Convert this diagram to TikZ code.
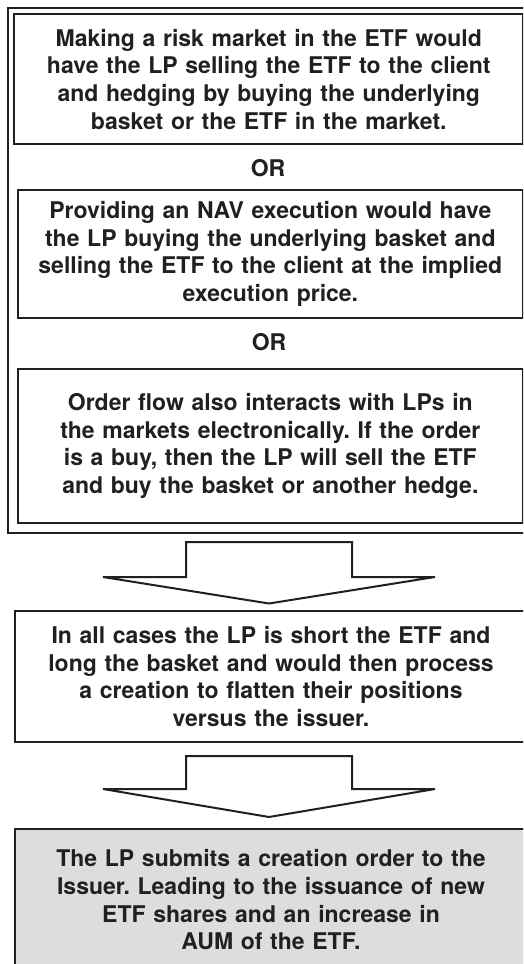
\documentclass[tikz,border=0pt]{standalone}
\usepackage{fontspec}
\setmainfont{TeX Gyre Heros}
\frenchspacing
\usetikzlibrary{positioning}
\definecolor{ink}{HTML}{231F20}
\definecolor{boxgray}{HTML}{DCDDDF}
\tikzset{
  textbox/.style={draw=ink, line width=2pt, align=center, text=ink,
    font=\fontsize{23}{27.7}\selectfont\bfseries, inner sep=0pt, anchor=north west},
  ortext/.style={text=ink, font=\fontsize{23}{27.7}\selectfont\bfseries, inner sep=0pt},
  blockarrow/.style={draw=ink, line width=2pt, fill=white, line join=miter},
  frame/.style={draw=ink, line width=2pt, inner sep=0pt, anchor=north west}
}
\begin{document}
\begin{tikzpicture}[x=1pt,y=-1pt]
\useasboundingbox (0,0) rectangle (523,964);
\clip (0,0) rectangle (523,964);
% outer frame
\node[frame, minimum width=530pt, minimum height=525pt] (outer) at (6.7,6.7) {};
% box 1
\node[textbox, minimum width=509pt, minimum height=130pt, text width=505pt] (b1) at (13.3,13.3)
  {Making a risk market in the ETF would\\have the LP selling the ETF to the client\\and hedging by buying the underlying\\basket or the ETF in the market.};
\node[ortext] (or1) at (268,168) {OR};
% box 2
\node[textbox, minimum width=505.3pt, minimum height=128pt, text width=505pt] (b2) at (16.7,189)
  {Providing an NAV execution would have\\the LP buying the underlying basket and\\selling the ETF to the client at the implied\\execution price.};
\node[ortext] (or2) at (269,342) {OR};
% box 3
\node[textbox, minimum width=505.3pt, minimum height=154pt, text width=505pt] (b3) at (16.7,368)
  {Order flow also interacts with LPs in\\the markets electronically. If the order\\is a buy, then the LP will sell the ETF\\and buy the basket or another hedge.};
% box 4
\node[textbox, minimum width=512pt, minimum height=131pt, text width=505pt] (b4) at (14,610)
  {In all cases the LP is short the ETF and\\long the basket and would then process\\a creation to flatten their positions\\versus the issuer.};
% box 5
\node[textbox, fill=boxgray, minimum width=512pt, minimum height=142pt, text width=505pt] (b5) at (14,828)
  {The LP submits a creation order to the\\Issuer. Leading to the issuance of new\\ETF shares and an increase in\\AUM of the ETF.};
% arrow 1
\coordinate (a1tip) at (269,603.5);
\draw[blockarrow] (186,542) -- (352,542) -- (352,577) -- (435,577) -- (a1tip)
  -- (103,577) -- (186,577) -- cycle;
% arrow 2
\coordinate (a2tip) at (269,817);
\draw[blockarrow] (186,756) -- (352,756) -- (352,789) -- (435,789) -- (a2tip)
  -- (103,789) -- (186,789) -- cycle;
\end{tikzpicture}
\end{document}
